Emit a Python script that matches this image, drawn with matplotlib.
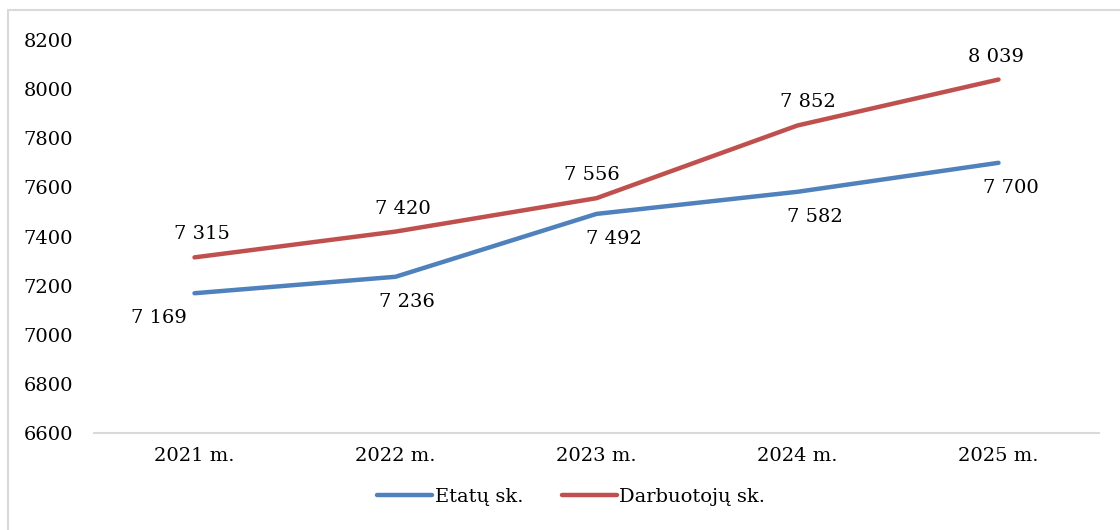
import matplotlib.pyplot as plt
from matplotlib.patches import Rectangle

years = ["2021 m.", "2022 m.", "2023 m.", "2024 m.", "2025 m."]
etatu = [7169, 7236, 7492, 7582, 7700]
darbuotoju = [7315, 7420, 7556, 7852, 8039]
y_ticks = [6600, 6800, 7000, 7200, 7400, 7600, 7800, 8000, 8200]

# label offsets in pixels (dx, dy) like Excel placed them
etatu_off = [(-36, -25), (11, -25), (17, -25), (17, -25), (12, -25)]
darb_off = [(7, 23), (7, 23), (-5, 23), (10, 23), (-2, 23)]

def fmt(v):
    return f"{v:,}".replace(",", " ")

plt.rcParams['font.family'] = ['DejaVu Serif']
fig = plt.figure(figsize=(11.2, 5.3), dpi=100)
fig.patches.append(Rectangle((8 / 1120, -0.1), 1.2, 1 - 10 / 530 + 0.1,
                             transform=fig.transFigure, fill=False,
                             edgecolor="#D9D9D9", linewidth=1.5))
ax = fig.add_axes([94 / 1120, 1 - 433 / 530, 1005 / 1120, 393 / 530])

x = list(range(len(years)))
ax.plot(x, etatu, color="#4F81BD", lw=3.2, solid_capstyle="round", label="Etatų sk.")
ax.plot(x, darbuotoju, color="#C0504D", lw=3.2, solid_capstyle="round", label="Darbuotojų sk.")

for i, v in enumerate(etatu):
    ax.annotate(fmt(v), (i, v), xytext=(etatu_off[i][0] * 0.72, etatu_off[i][1] * 0.72),
                textcoords="offset points", ha="center", va="center", fontsize=14)
for i, v in enumerate(darbuotoju):
    ax.annotate(fmt(v), (i, v), xytext=(darb_off[i][0] * 0.72, darb_off[i][1] * 0.72),
                textcoords="offset points", ha="center", va="center", fontsize=14)

ax.set_xlim(-0.5, 4.5)
ax.set_ylim(6600, 8200)
ax.set_yticks(y_ticks)
ax.set_xticks(x)
ax.set_xticklabels(years)
ax.tick_params(axis="both", length=0, labelsize=14, colors="black")
ax.tick_params(axis="y", pad=15)
ax.tick_params(axis="x", pad=10)
for s in ["top", "right", "left"]:
    ax.spines[s].set_visible(False)
ax.spines["bottom"].set_color("#D9D9D9")
ax.spines["bottom"].set_linewidth(1.5)

ax.legend(loc="upper center", bbox_to_anchor=(0.475, -0.095), ncol=2, frameon=False,
          fontsize=14, handlelength=2.8, handletextpad=0.15, columnspacing=2.0)

plt.savefig("out.png", dpi=100)
